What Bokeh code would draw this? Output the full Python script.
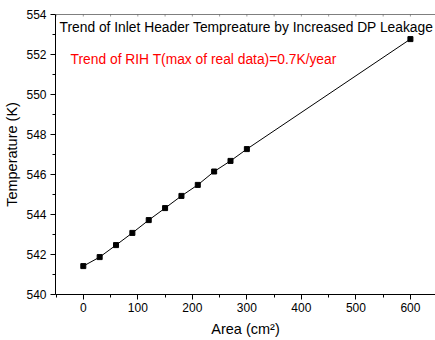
from bokeh.plotting import figure
from bokeh.models import Range1d, FixedTicker, Label, Span
from bokeh.embed import file_html
from bokeh.resources import INLINE

area = [0, 30, 60, 90, 120, 150, 180, 210, 240, 270, 300, 600]
temp = [541.42, 541.87, 542.47, 543.08, 543.72, 544.32, 544.93, 545.48, 546.15, 546.68, 547.27, 552.77]
x_ticks = [0, 100, 200, 300, 400, 500, 600]
x_minor = [-50, 50, 150, 250, 350, 450, 550]
y_ticks = [540, 542, 544, 546, 548, 550, 552, 554]
y_minor = [541, 543, 545, 547, 549, 551, 553]
title_text = "Trend of Inlet Header Tempreature by Increased DP Leakage"
note_text = "Trend of RIH T(max of real data)=0.7K/year"

FONT = "Liberation Sans"

p = figure(width=435, height=340, output_backend="svg", toolbar_location=None,
           x_range=Range1d(-51, 646), y_range=Range1d(540, 554),
           min_border_left=55, min_border_right=0, min_border_top=14, min_border_bottom=46)
p.outline_line_color = None
p.xgrid.visible = False
p.ygrid.visible = False
p.background_fill_color = "white"
p.border_fill_color = "white"

p.line(area, temp, line_color="black", line_width=1)
p.scatter(area, temp, marker="square", size=5, fill_color="black", line_color="black")

xa = p.xaxis[0]
xa.ticker = FixedTicker(ticks=x_ticks, minor_ticks=x_minor)
xa.axis_label = "Area (cm²)"
ya = p.yaxis[0]
ya.ticker = FixedTicker(ticks=y_ticks, minor_ticks=y_minor)
ya.axis_label = "Temperature (K)"
for ax in (xa, ya):
    ax.major_label_text_font = FONT
    ax.major_label_text_font_size = "12px"
    ax.major_label_text_color = "black"
    ax.axis_label_text_font = FONT
    ax.axis_label_text_font_size = "14.5px"
    ax.axis_label_text_font_style = "normal"
    ax.axis_label_text_color = "black"
    ax.axis_line_color = "black"
    ax.major_tick_line_color = "black"
    ax.minor_tick_line_color = "black"
    ax.major_tick_out = 5
    ax.major_tick_in = 0
    ax.minor_tick_out = 3
    ax.minor_tick_in = 0
xa.major_label_standoff = 3
xa.axis_label_standoff = 6
ya.major_label_standoff = 4
ya.axis_label_standoff = 3

# top frame line with small inward ticks
p.add_layout(Span(location=554, dimension="width", line_color="black", line_width=1))
top_ticks = x_ticks + x_minor
p.segment(x0=top_ticks, y0=[554] * len(top_ticks), x1=top_ticks, y1=[553.9] * len(top_ticks),
          line_color="#999999", line_width=1)

p.add_layout(Label(x=-43.5, y=553.35, text=title_text, text_font=FONT, text_font_size="13.8px",
                   text_color="black", text_baseline="middle", text_align="left"))
p.add_layout(Label(x=-23.3, y=551.75, text=note_text, text_font=FONT, text_font_size="13.8px",
                   text_color="red", text_baseline="middle", text_align="left"))

open("out.html", "w").write(file_html(p, INLINE))
